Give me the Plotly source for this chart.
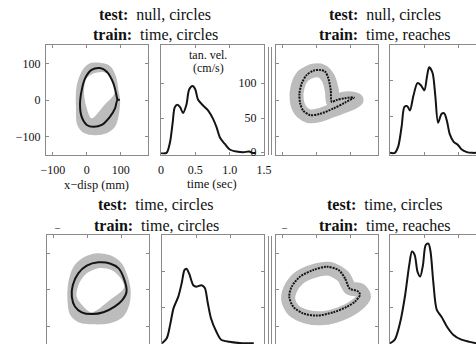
import plotly.graph_objects as go

FONT = "Liberation Serif, Times New Roman, serif"
GRAY = "#bcbcbc"
FRAME = "#8a8a8a"
INK = "#141414"
W, H = 476, 344

# ---------------- text ----------------
test_labels = ["null, circles", "null, circles", "time, circles", "time, circles"]
train_labels = ["time, circles", "time, reaches", "time, circles", "time, reaches"]
vel_title = ["tan. vel.", "(cm/s)"]
xdisp_title = "x\u2212disp (mm)"
time_title = "time (sec)"

# ---------------- tick labels ----------------
disp_ticks = [-100, 0, 100]
disp_ticktext = ["\u2212100", "0", "100"]
time_ticks = [0, 0.5, 1.0, 1.5]
time_ticktext = ["0", "0.5", "1.0", "1.5"]
vel_ticks = [0, 50, 100]
vel_ticktext = ["0", "50", "100"]

# ---------------- panel A: test null/circles, train time/circles ----------------
a_x = [90, 78, 58, 39, 14, -5, -15, -20, -15, 0, 19, 44, 68, 83, 90, 97]
a_y = [0, 46, 78, 87, 82, 59, 27, -14, -46, -68, -73, -68, -46, -23, 0, 0]
a_band_x = [29, 68, 86, 93, 98, 93, 83, 58, 24, -10, -28, -32, -30, -15, 5]
a_band_y = [102, 93, 64, 27, 0, -46, -73, -91, -96, -89, -68, -18, 37, 78, 98]
a_hole_x = [-2, 19, 50, 72, 82, 51, 14, 0, -8]
a_hole_y = [57, 72, 76, 62, 20, -14, -50, -23, 18]
a_t = [0, 0.08, 0.13, 0.17, 0.20, 0.24, 0.28, 0.32, 0.37, 0.41, 0.46, 0.50, 0.54,
       0.62, 0.69, 0.76, 0.81, 0.86, 0.93, 1.00, 1.10, 1.20, 1.28, 1.34, 1.38]
a_v = [0, 0, 15, 44, 66, 70, 66, 58, 70, 92, 97, 92, 77,
       68, 61, 49, 37, 22, 13, 5, 2, 1, 2, 0, 0]

# ---------------- panel B: test null/circles, train time/reaches ----------------
b_x = [44, 41, 34, 24, 9, -10, -30, -44, -51, -49, -40, -20, 9, 49, 83, 109, 83, 58, 44]
b_y = [-5, 27, 59, 78, 82, 80, 68, 46, 18, -9, -29, -41, -38, -23, -7, 7, 5, 0, -5]
b_band_x = [49, 44, 34, 14, -10, -40, -56, -59, -49, -25, 9, 49, 88, 117, 93, 63, 49]
b_band_y = [-5, 27, 59, 79, 80, 66, 37, 0, -27, -44, -41, -27, -14, 0, 5, 0, -5]
b_t = [0, 0.07, 0.12, 0.17, 0.21, 0.25, 0.29, 0.34, 0.40, 0.45, 0.50, 0.54, 0.57,
       0.62, 0.66, 0.70, 0.75, 0.79, 0.83, 0.87, 0.93, 0.99, 1.04, 1.12, 1.20, 1.26]
b_v = [0, 0, 9, 37, 64, 65, 59, 79, 97, 94, 87, 107, 119,
       111, 79, 42, 54, 55, 44, 26, 15, 11, 5, 1, 0, 0]

# ---------------- panel C: test time/circles, train time/circles ----------------
c_x = [114, 106, 90, 65, 31, -3, -28, -44, -47, -38, -18, 11, 46, 80, 102, 114]
c_y = [-5, 31, 59, 72, 75, 66, 45, 13, -19, -46, -62, -67, -62, -46, -28, -5]
c_band_x = [26, 70, 100, 116, 126, 122, 104, 65, 16, -28, -52, -60, -57, -42, -13]
c_band_y = [100, 93, 72, 40, -1, -42, -74, -92, -95, -89, -69, -24, 22, 63, 88]
c_hole_x = [-33, -25, -3, 31, 70, 97, 107, 65, 11, -13]
c_hole_y = [-19, 18, 45, 59, 54, 31, 6, -28, -62, -46]
c_t = [0, 0.07, 0.12, 0.17, 0.24, 0.29, 0.33, 0.36, 0.40, 0.46, 0.51, 0.58, 0.63,
       0.67, 0.72, 0.80, 0.87, 0.99, 1.18, 1.35]
c_v = [0, 7, 26, 49, 65, 84, 102, 104, 97, 81, 79, 81, 77,
       58, 35, 16, 5, 2, 0, 0]

# ---------------- panel D: test time/circles, train time/reaches ----------------
d_x = [93, 83, 64, 29, -10, -49, -74, -81, -69, -40, 0, 49, 88, 112, 127, 122, 98, 93]
d_y = [8, 31, 54, 63, 54, 36, 8, -19, -47, -65, -71, -62, -47, -33, -14, -5, 2, 8]
d_band_x = [98, 78, 39, -10, -54, -79, -84, -69, -30, 19, 68, 112, 139, 127, 98]
d_band_y = [4, 36, 57, 51, 31, -1, -28, -56, -74, -78, -67, -46, -19, -1, 4]
d_t = [0, 0.07, 0.15, 0.22, 0.28, 0.32, 0.36, 0.40, 0.44, 0.48, 0.52, 0.56, 0.59,
       0.63, 0.68, 0.75, 0.83, 0.92, 1.04, 1.16, 1.26]
d_v = [0, 5, 30, 67, 109, 128, 123, 100, 93, 109, 137, 139, 128,
       86, 47, 37, 23, 12, 5, 2, 0]

fig = go.Figure()


def line(x, y, ax, color=INK, width=2, dash="solid"):
    fig.add_trace(go.Scatter(x=x, y=y, mode="lines", xaxis="x" + ax, yaxis="y" + ax,
                             line=dict(color=color, width=width, shape="spline",
                                       smoothing=0.8, dash=dash),
                             hoverinfo="skip", showlegend=False))


def poly(x, y, ax, color):
    fig.add_trace(go.Scatter(x=x + x[:1], y=y + y[:1], mode="lines", fill="toself",
                             fillcolor=color, xaxis="x" + ax, yaxis="y" + ax,
                             line=dict(color=color, width=0, shape="spline", smoothing=0.9),
                             hoverinfo="skip", showlegend=False))


# panel 1 / 2
poly(a_band_x, a_band_y, "", GRAY)
poly(a_hole_x, a_hole_y, "", "white")
line(a_x, a_y, "")
line(a_t, a_v, "2")
# panel 3 / 4
line(b_band_x, b_band_y, "3", GRAY, 14)
line(b_x, b_y, "3", INK, 2, "2px,1px")
line(b_t, b_v, "4")
# panel 5 / 6
poly(c_band_x, c_band_y, "5", GRAY)
poly(c_hole_x, c_hole_y, "5", "white")
line(c_x, c_y, "5")
line(c_t, c_v, "6")
# panel 7 / 8
line(d_band_x, d_band_y, "7", GRAY, 14)
line(d_x, d_y, "7", INK, 2, "2px,1px")
line(d_t, d_v, "8")

tickfont = dict(family=FONT, size=12, color="#111111")


def ax(domain, rng, **kw):
    d = dict(domain=domain, range=rng, showline=True, linecolor=FRAME, linewidth=1,
             ticks="inside", ticklen=3, tickcolor=FRAME, tickwidth=1, showgrid=False,
             zeroline=False, fixedrange=True, tickfont=tickfont, showticklabels=False)
    d.update(kw)
    return d


xd = lambda a, b: [a / W, b / W]
top = [1 - 155 / H, 1 - 45 / H]
bot = [0, 1 - 235 / H]
disp_rng = [-120, 180]
t_full = [0, 1.5]
t_cut = [0, (476 - 390) / 68.67]

fig.update_layout(
    template="none",
    width=W, height=H, margin=dict(l=0, r=0, t=0, b=0, autoexpand=False),
    paper_bgcolor="white", plot_bgcolor="white",
    xaxis=ax(xd(46, 148), disp_rng, tickvals=disp_ticks, ticktext=disp_ticktext,
             showticklabels=True, mirror="ticks", ticklabelstandoff=4),
    yaxis=ax(top, [-150, 150], tickvals=disp_ticks, ticktext=disp_ticktext,
             showticklabels=True, mirror="ticks", anchor="x", ticklabelstandoff=2),
    xaxis2=ax(xd(161, 264), t_full, tickvals=time_ticks, ticktext=time_ticktext,
              showticklabels=True, mirror="ticks", anchor="y2", ticklabelstandoff=4),
    yaxis2=ax(top, [-3, 156.5], tickvals=vel_ticks, ticktext=vel_ticktext, showticklabels=True,
              side="right", ticklabelposition="inside", ticklabeloverflow="allow",
              ticklabelstandoff=4, ticklabelshift=-1, mirror="ticks", anchor="x2"),
    xaxis3=ax(xd(276, 378), disp_rng, tickvals=disp_ticks, mirror="ticks", anchor="y3"),
    yaxis3=ax(top, [-150, 150], tickvals=disp_ticks, mirror="ticks", anchor="x3"),
    xaxis4=ax(xd(390, 476), t_cut, tickvals=[0.5, 1.0], mirror="ticks", anchor="y4"),
    yaxis4=ax(top, [-3, 150], tickvals=[50, 100], mirror=False, anchor="x4"),
    xaxis5=ax(xd(47, 149), disp_rng, tickvals=disp_ticks, side="top", anchor="y5"),
    yaxis5=ax(bot, [-149, 150], tickvals=disp_ticks, mirror="ticks", anchor="x5"),
    xaxis6=ax(xd(162, 264), t_full, tickvals=[0.5, 1.0], side="top", anchor="y6"),
    yaxis6=ax(bot, [-1, 151], tickvals=[50, 100], mirror="ticks", anchor="x6"),
    xaxis7=ax(xd(276, 378), disp_rng, tickvals=disp_ticks, side="top", anchor="y7"),
    yaxis7=ax(bot, [-149, 150], tickvals=disp_ticks, mirror="ticks", anchor="x7"),
    xaxis8=ax(xd(390, 476), t_cut, tickvals=[0.5, 1.0], side="top", anchor="y8"),
    yaxis8=ax(bot, [-1, 151], tickvals=[50, 100], mirror=False, anchor="x8"),
)

ann = []


def txt(x, y, s, size=12, **kw):
    a = dict(x=x / W, y=1 - y / H, xref="paper", yref="paper", text=s, showarrow=False,
             font=dict(family=FONT, size=size, color="#111"), xanchor="center",
             yanchor="middle")
    a.update(kw)
    ann.append(a)


title_pos = [(155, 15), (385, 15), (156, 205), (385, 205)]
for (cx, cy), te, tr in zip(title_pos, test_labels, train_labels):
    txt(cx, cy, "<b>test:</b>\u00a0 " + te, 16)
    txt(cx, cy + 20, "<b>train:</b>\u00a0 " + tr, 16)

txt(208, 55, vel_title[0], 12)
txt(208, 68, vel_title[1], 12)
txt(96, 185, xdisp_title, 12.5)
txt(212, 184, time_title, 12.5)
txt(57, 228, "\u2013", 10)
txt(284, 228, "\u2013", 10)

fig.update_layout(annotations=ann)

shapes = []
for sx in (268.5, 271.5):
    for y0, y1 in ((47, 155), (236, 344)):
        shapes.append(dict(type="line", xref="paper", yref="paper", x0=sx / W, x1=sx / W,
                           y0=1 - y1 / H, y1=1 - y0 / H, line=dict(color=FRAME, width=1)))
fig.update_layout(shapes=shapes)

fig.write_html("out.html", config={"displayModeBar": False},
               post_script="document.body.style.margin='0';document.body.style.overflow='hidden';")
